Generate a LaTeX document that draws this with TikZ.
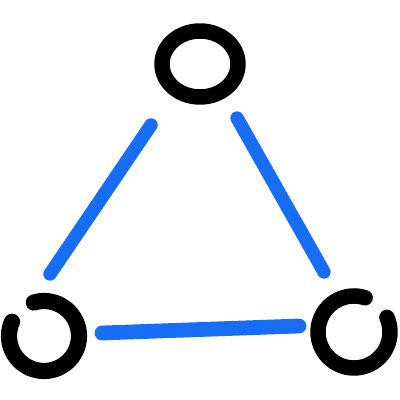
\documentclass[tikz,border=0pt]{standalone}
\definecolor{azul}{RGB}{23,110,245}
\begin{document}
\begin{tikzpicture}[x=0.025cm, y=0.025cm, line cap=round]
					\useasboundingbox (0,0) rectangle (400,400);
					% Centros
					\coordinate (T) at (200,336);
					\coordinate (E) at (44,64);
					\coordinate (D) at (354,68);
					
					% Pontas das arestas
					\coordinate (T1) at (151,275);
					\coordinate (E1) at (50,126);
					\coordinate (T2) at (237,282);
					\coordinate (D1) at (324,128);
					\coordinate (E2) at (102,67);
					\coordinate (D2) at (299,74);
					
					% Arestas
					\draw[azul, line width=9.5pt] (T1) -- (E1);
					\draw[azul, line width=9.5pt] (T2) -- (D1);
					\draw[azul, line width=10.5pt] (E2) -- (D2);
					
					% Vertices
					\draw[line width=11pt] (T) ellipse [x radius=38, y radius=33];
					\draw[line width=11.5pt] (E) ++(156:35) arc[start angle=156, end angle=467, radius=35];
					\draw[line width=11pt] (D) ++(72:36) arc[start angle=72, end angle=384, radius=36];
				\end{tikzpicture}
\end{document}
